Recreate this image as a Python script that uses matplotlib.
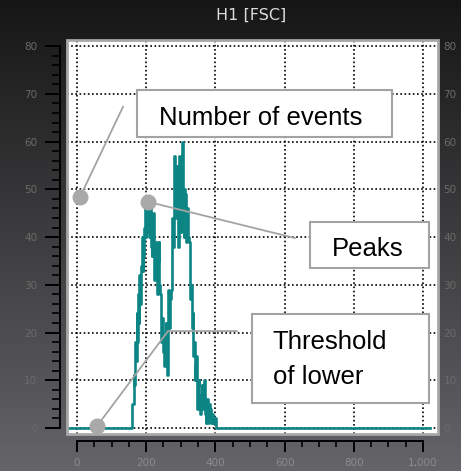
import numpy as np
import matplotlib
matplotlib.use('Agg')
import matplotlib.pyplot as plt
from matplotlib.patches import Rectangle
from matplotlib.ticker import MultipleLocator

# ---------------- data ----------------
title = 'H1 [FSC]'
bin_start = 160
bin_width = 2
counts = [5, 5, 11, 9, 18, 14, 24, 18, 28, 22,
          32, 26, 30, 34, 40, 33, 36, 42, 48, 40,
          45, 48, 47, 41, 40, 46, 48, 38, 36, 44,
          45, 37, 31, 38, 39, 33, 28, 35, 39, 30,
          28, 24, 18, 23, 22, 16, 13, 19, 22, 15,
          11, 17, 29, 21, 21, 27, 29, 36, 44, 38,
          57, 48, 44, 53, 55, 45, 38, 50, 57, 47,
          41, 52, 60, 45, 40, 50, 49, 42, 39, 46,
          46, 40, 39, 33, 27, 30, 21, 24, 15, 18,
          10, 13, 15, 8, 4, 9, 10, 5, 3, 7,
          9, 4, 4, 8, 10, 3, 1, 6, 6, 2,
          1, 5, 4, 1, 1, 3, 3, 1, 1, 2,
          2, 0]
baseline_x = [-28, 1020]
x_ticks = [0, 200, 400, 600, 800, 1000]
x_tick_labels = ['0', '200', '400', '600', '800', '1,000']
y_ticks = [0, 10, 20, 30, 40, 50, 60, 70, 80]
y_tick_labels = ['0', '10', '20', '30', '40', '50', '60', '70', '80']

ann_labels = ['Number of events', 'Peaks', 'Threshold', 'of lower']

# ---------------- figure ----------------
W, H = 461, 471
fig = plt.figure(figsize=(W / 100, H / 100), dpi=100)

# background gradient
bg = fig.add_axes([0, 0, 1, 1], zorder=-5)
top_c = np.array([0x16, 0x16, 0x16]) / 255
bot_c = np.array([0x64, 0x64, 0x69]) / 255
t = np.linspace(0, 1, 256)[:, None]
img = (top_c[None, :] * (1 - t) + bot_c[None, :] * t)[:, None, :]
bg.imshow(img, aspect='auto', extent=[0, 1, 0, 1], interpolation='bilinear')
bg.axis('off')

ax = fig.add_axes([67 / W, 1 - 434 / H, (438 - 67) / W, (434 - 40) / H])
ax.set_facecolor('white')
ax.set_xlim(-28.9, 1043.4)
ax.set_ylim(-1.26, 81.3)

# histogram (step)
edges = [bin_start + i * bin_width for i in range(len(counts))]
xs = [baseline_x[0]] + edges + [edges[-1] + bin_width, baseline_x[1]]
ys = [0] + counts + [0, 0]
ax.step(xs, ys, where='post', color='#0d8585', lw=1.9, zorder=3)

# grid
ax.set_xticks(x_ticks)
ax.set_xticklabels(x_tick_labels)
ax.set_yticks(y_ticks)
ax.set_yticklabels(y_tick_labels)
ax.xaxis.set_minor_locator(MultipleLocator(50))
ax.yaxis.set_minor_locator(MultipleLocator(2))
ax.grid(True, which='major', color='black', linestyle=(0, (1, 1.5)), lw=1.2, zorder=1)
ax.set_axisbelow(True)

# spines
for s in ['top', 'right']:
    ax.spines[s].set_visible(False)
ax.spines['left'].set_position(('outward', 5))
ax.spines['bottom'].set_position(('outward', 5))
ax.spines['left'].set_bounds(0, 80)
ax.spines['bottom'].set_bounds(0, 1000)
for s in ['left', 'bottom']:
    ax.spines[s].set_linewidth(1.4)
    ax.spines[s].set_color('black')

ylab_col = '#6a6a6a'
xlab_col = '#8c8c8c'
ax.tick_params(axis='y', which='major', length=10.8, width=1.4, color='black',
               pad=5.5, labelsize=7.5, labelcolor=ylab_col, direction='out')
ax.tick_params(axis='y', which='minor', length=5.5, width=1.2, color='black', direction='out')
ax.tick_params(axis='x', which='major', length=8, width=1.4, color='black',
               pad=4, labelsize=7.5, labelcolor=xlab_col, direction='out')
ax.tick_params(axis='x', which='minor', length=4.5, width=1.2, color='black', direction='out')

# frame around white area
ax.add_patch(Rectangle((0, 0), 1, 1, transform=ax.transAxes, fill=False,
                       edgecolor='#a8a8a8', lw=2, clip_on=False, zorder=10))

# right labels
ax2 = ax.twinx()
ax2.set_ylim(ax.get_ylim())
ax2.set_yticks(y_ticks)
ax2.set_yticklabels(y_tick_labels)
ax2.tick_params(axis='y', length=0, pad=4, labelsize=7.5, labelcolor=ylab_col)
for s in ax2.spines.values():
    s.set_visible(False)

# title
fig.text(251 / W, 1 - 15 / H, title, color='#dcdcdc', fontsize=11.5,
         ha='center', va='center', family='DejaVu Sans')

# annotations
gray_line = '#a3a3a3'
circ = '#a9a9a9'
font = dict(family='Liberation Sans', fontsize=18.5, color='black', zorder=8)

# Number of events
ax.plot([8.7, 133], [48.4, 67.3], color=gray_line, lw=1.3, zorder=5)
ax.plot([8.7], [48.4], 'o', ms=10.5, color=circ, zorder=6, clip_on=False)
ax.add_patch(Rectangle((173.4, 61.0), 910.4 - 173.4, 70.9 - 61.0, facecolor='white',
                       edgecolor='#a3a3a3', lw=1.5, zorder=7))
ax.text(237, 63.5, ann_labels[0], ha='left', va='baseline', **font)

# Peaks
ax.plot([205, 630], [47.4, 39.8], color=gray_line, lw=1.3, zorder=5)
ax.plot([205], [47.4], 'o', ms=10.5, color=circ, zorder=6)
ax.add_patch(Rectangle((673, 33.5), 1017 - 673, 43.2 - 33.5, facecolor='white',
                       edgecolor='#a3a3a3', lw=1.5, zorder=7))
ax.text(737, 36.1, ann_labels[1], ha='left', va='baseline', **font)

# Threshold of lower
ax.plot([57.8, 263, 462], [0.4, 20.3, 20.3], color=gray_line, lw=1.3, zorder=5)
ax.plot([57.8], [0.4], 'o', ms=10.5, color=circ, zorder=6)
ax.add_patch(Rectangle((506, 5.2), 1017 - 506, 23.9 - 5.2, facecolor='white',
                       edgecolor='#a3a3a3', lw=1.5, zorder=7))
ax.text(566, 16.6, ann_labels[2], ha='left', va='baseline', **font)
ax.text(566, 9.2, ann_labels[3], ha='left', va='baseline', **font)

fig.savefig('out.png', dpi=100)
